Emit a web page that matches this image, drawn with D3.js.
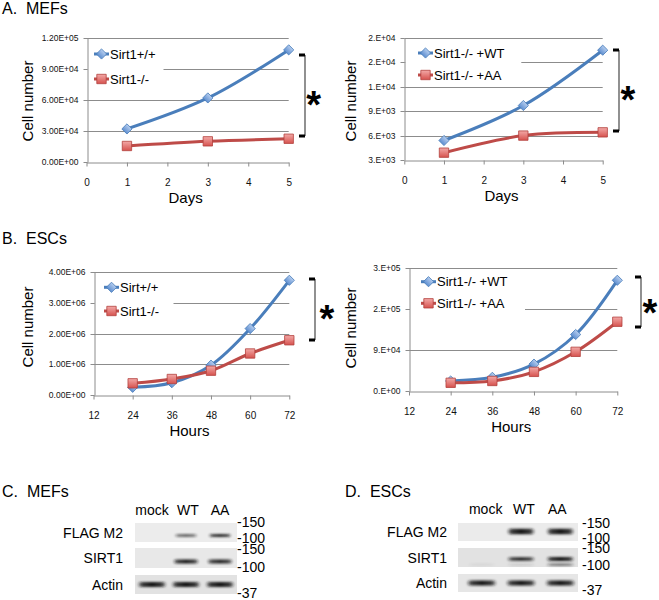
<!DOCTYPE html>
<html><head><meta charset="utf-8">
<script src="https://cdn.jsdelivr.net/npm/d3@7"></script>
<style>body{margin:0;background:#fff} svg{display:block}</style>
</head><body>
<svg id="c" width="659" height="600"></svg>
<script>
// ---------- DATA ----------
const daysMEF = [1, 3, 5];
const mefXTicks = [0, 1, 2, 3, 4, 5];
const mefLegendA = ["Sirt1+/+", "Sirt1-/-"];
const mefSirt1WT = [32000, 62000, 108500];
const mefSirt1KO = [15500, 20000, 22500];
const mefAYTicks = [0, 30000, 60000, 90000, 120000];
const mefAYLabels = ["0.00E+00", "3.00E+04", "6.00E+04", "9.00E+04", "1.20E+05"];
const mefLegendB = ["Sirt1-/- +WT", "Sirt1-/- +AA"];
const mefRescueWT = [5400, 9700, 16500];
const mefRescueAA = [3900, 6000, 6400];
const mefBYTicks = [3000, 6000, 9000, 12000, 15000, 18000];
const mefBYLabels = ["3.E+03", "6.E+03", "9.E+03", "1.E+04", "2.E+04", "2.E+04"];

const hoursESC = [24, 36, 48, 60, 72];
const escXTicks = [12, 24, 36, 48, 60, 72];
const escLegendA = ["Sirt+/+", "Sirt1-/-"];
const escSirt1WT = [250000, 400000, 970000, 2160000, 3730000];
const escSirt1KO = [380000, 520000, 790000, 1350000, 1780000];
const escAYTicks = [0, 1000000, 2000000, 3000000, 4000000];
const escAYLabels = ["0.00E+00", "1.00E+06", "2.00E+06", "3.00E+06", "4.00E+06"];
const escLegendB = ["Sirt1-/- +WT", "Sirt1-/- +AA"];
const escRescueWT = [22000, 30000, 59000, 124000, 243000];
const escRescueAA = [18000, 22000, 42000, 86000, 152000];
const escBYTicks = [0, 90000, 180000, 270000];
const escBYLabels = ["0.E+00", "9.E+04", "2.E+05", "3.E+05"];

const blotLanes = ["mock", "WT", "AA"];
const blotRows = ["FLAG M2", "SIRT1", "Actin"];
const mwLabels = ["-150", "-100", "-150", "-100", "-37"];
const mefBlot = [[0, 0.55, 0.8], [0, 0.9, 0.85], [1, 1, 1]];
const escBlot = [[0, 0.95, 1], [0, 0.8, 1], [1, 1, 1]];
const escSirt1Lower = [0.06, 0.12, 0.6];

// ---------- DRAW ----------
const svg = d3.select("#c");
const FONT = "'Liberation Sans', Arial, sans-serif";
const BLUE = "#4a7ebb", RED = "#be4b48";
const defs = svg.append("defs");
const gb = defs.append("linearGradient").attr("id", "gBlue").attr("x1", 0).attr("y1", 0).attr("x2", 0).attr("y2", 1);
gb.append("stop").attr("offset", 0).attr("stop-color", "#b5cdef");
gb.append("stop").attr("offset", 1).attr("stop-color", "#5f8fd0");
const gr = defs.append("linearGradient").attr("id", "gRed").attr("x1", 0).attr("y1", 0).attr("x2", 0).attr("y2", 1);
gr.append("stop").attr("offset", 0).attr("stop-color", "#f3a9a7");
gr.append("stop").attr("offset", 1).attr("stop-color", "#d6524e");
const gband = defs.append("linearGradient").attr("id", "gBand").attr("x1", 0).attr("y1", 0).attr("x2", 1).attr("y2", 0);
[[0, 0.15], [0.18, 0.85], [0.5, 1], [0.82, 0.85], [1, 0.15]].forEach(([o, a]) =>
  gband.append("stop").attr("offset", o).attr("stop-color", "#151515").attr("stop-opacity", a));
defs.append("filter").attr("id", "blur").attr("x", "-20%").attr("y", "-100%").attr("width", "140%").attr("height", "300%")
  .append("feGaussianBlur").attr("stdDeviation", 0.8);

const diamond = d3.symbol(d3.symbolSquare, 52);
const square = d3.symbol(d3.symbolSquare, 88);

function marker(sel, kind) {
  if (kind === 0) {
    sel.attr("d", diamond()).attr("fill", "url(#gBlue)").attr("stroke", "#4a7ebb").attr("stroke-width", 0.8);
  } else {
    sel.attr("d", square()).attr("fill", "url(#gRed)").attr("stroke", "#b3403c").attr("stroke-width", 0.8);
  }
}

function lineChart(cfg) {
  const g = svg.append("g");
  const x = d3.scaleLinear().domain(cfg.xDomain).range([cfg.x0, cfg.x1]);
  const y = d3.scaleLinear().domain(cfg.yDomain).range([cfg.yBot, cfg.yTop]);
  const ry = v => Math.round(y(v)) + 0.5;
  g.selectAll("line.grid").data(cfg.yTicks.slice(1)).join("line")
    .attr("x1", cfg.x0).attr("x2", cfg.x1).attr("y1", ry).attr("y2", ry)
    .attr("stroke", "#8c8c8c").attr("stroke-width", 1);
  g.append("rect").attr("x", cfg.x0 + 1).attr("y", cfg.leg.y0).attr("width", cfg.leg.w).attr("height", cfg.leg.h).attr("fill", "#fff");
  const ya = d3.axisLeft(y).tickValues(cfg.yTicks).tickFormat((d, i) => cfg.yLabels[i]).tickSize(4).tickSizeOuter(0).tickPadding(5);
  const yg = g.append("g").attr("transform", `translate(${Math.round(cfg.x0) + 0.5},0)`).call(ya);
  const xa = d3.axisBottom(x).tickValues(cfg.xTicks).tickFormat(d3.format("d")).tickSize(4).tickSizeOuter(0).tickPadding(12);
  const xg = g.append("g").attr("transform", `translate(0,${Math.round(cfg.yBot) + 0.5})`).call(xa);
  [yg, xg].forEach(a => {
    a.select(".domain").attr("stroke", "#8c8c8c");
    a.selectAll(".tick line").attr("stroke", "#8c8c8c");
    a.selectAll("text").attr("font-family", FONT).attr("font-size", 8.5).attr("fill", "#111");
  });
  xg.selectAll("text").attr("font-size", 10);
  yg.selectAll(".tick").attr("transform", d => `translate(0,${ry(d)})`);
  g.append("text").attr("transform", `translate(${cfg.yTitleX},${cfg.yTitleY}) rotate(-90)`)
    .attr("text-anchor", "middle").attr("font-family", FONT).attr("font-size", 15).text("Cell number");
  g.append("text").attr("x", (cfg.x0 + cfg.x1) / 2 - 2).attr("y", cfg.yBot + 41)
    .attr("text-anchor", "middle").attr("font-family", FONT).attr("font-size", 15).text(cfg.xTitle);
  const line = d3.line().x(d => x(d[0])).y(d => y(d[1])).curve(d3.curveCatmullRom.alpha(0.5));
  cfg.series.forEach((s, k) => {
    const pts = cfg.xs.map((xv, i) => [xv, s[i]]);
    g.append("path").attr("d", line(pts)).attr("fill", "none")
      .attr("stroke", k === 0 ? BLUE : RED).attr("stroke-width", 3).attr("stroke-linejoin", "round");
  });
  cfg.series.forEach((s, k) => {
    g.selectAll(null).data(cfg.xs.map((xv, i) => [xv, s[i]])).join("path")
      .attr("transform", d => `translate(${x(d[0])},${y(d[1])})` + (k === 0 ? " rotate(45)" : ""))
      .call(marker, k);
  });
  cfg.legend.forEach((name, k) => {
    const ly = cfg.leg.items[k];
    g.append("line").attr("x1", cfg.leg.lx).attr("x2", cfg.leg.lx + 15).attr("y1", ly).attr("y2", ly)
      .attr("stroke", k === 0 ? BLUE : RED).attr("stroke-width", 3);
    g.append("path").attr("transform", `translate(${cfg.leg.lx + 7.5},${ly})` + (k === 0 ? " rotate(45)" : "")).call(marker, k);
    g.append("text").attr("x", cfg.leg.lx + 16).attr("y", ly).attr("dy", "0.36em")
      .attr("font-family", FONT).attr("font-size", 13).text(name);
  });
  const b = cfg.bracket;
  g.append("line").attr("x1", b.x).attr("x2", b.x).attr("y1", b.y1).attr("y2", b.y2).attr("stroke", "#555").attr("stroke-width", 1.3);
  [b.y1, b.y2].forEach(yy => g.append("rect").attr("x", b.x - 6).attr("y", yy - 1.5).attr("width", 6).attr("height", 3).attr("fill", "#000"));
  g.append("text").attr("x", b.ax).attr("y", b.ay + 21).attr("text-anchor", "middle")
    .attr("font-family", FONT).attr("font-weight", "bold").attr("font-size", 38).text("*");
}

function title(txt, x, y) {
  svg.append("text").attr("x", x).attr("y", y).attr("font-family", FONT).attr("font-size", 16).attr("xml:space", "preserve").text(txt);
}

title("A.  MEFs", 2, 14);
title("B.  ESCs", 2, 243.5);
title("C.  MEFs", 2, 497);
title("D.  ESCs", 345, 497);

lineChart({ x0: 86.5, x1: 288.7, yTop: 38, yBot: 162, xDomain: [0, 5], yDomain: [0, 120000],
  xs: daysMEF, series: [mefSirt1WT, mefSirt1KO], xTicks: mefXTicks, yTicks: mefAYTicks, yLabels: mefAYLabels,
  legend: mefLegendA, leg: { y0: 43, w: 76, h: 48, lx: 94, items: [54, 79] },
  yTitleX: 32.5, yTitleY: 101, xTitle: "Days",
  bracket: { x: 305, y1: 55, y2: 136, ax: 313.7, ay: 96.5 } });

lineChart({ x0: 404.3, x1: 602.7, yTop: 38, yBot: 160, xDomain: [0, 5], yDomain: [3000, 18000],
  xs: daysMEF, series: [mefRescueWT, mefRescueAA], xTicks: mefXTicks, yTicks: mefBYTicks, yLabels: mefBYLabels,
  legend: mefLegendB, leg: { y0: 43, w: 116, h: 44, lx: 418, items: [53, 75] },
  yTitleX: 356, yTitleY: 101, xTitle: "Days",
  bracket: { x: 619, y1: 50, y2: 131, ax: 628, ay: 91.7 } });

lineChart({ x0: 93.5, x1: 289.3, yTop: 272, yBot: 395, xDomain: [12, 72], yDomain: [0, 4000000],
  xs: hoursESC, series: [escSirt1WT, escSirt1KO], xTicks: escXTicks, yTicks: escAYTicks, yLabels: escAYLabels,
  legend: escLegendA, leg: { y0: 277, w: 79, h: 44, lx: 104, items: [287.3, 311] },
  yTitleX: 32.5, yTitleY: 327, xTitle: "Hours",
  bracket: { x: 315, y1: 279, y2: 340, ax: 327, ay: 311 } });

lineChart({ x0: 409, x1: 617.3, yTop: 268, yBot: 391, xDomain: [12, 72], yDomain: [0, 270000],
  xs: hoursESC, series: [escRescueWT, escRescueAA], xTicks: escXTicks, yTicks: escBYTicks, yLabels: escBYLabels,
  legend: escLegendB, leg: { y0: 271, w: 115, h: 44, lx: 421, items: [281.7, 303.3] },
  yTitleX: 356, yTitleY: 328, xTitle: "Hours",
  bracket: { x: 641, y1: 277, y2: 327, ax: 650, ay: 305.4 } });

// ---------- BLOTS ----------
function blot(cfg, matrix) {
  const g = svg.append("g");
  const lane = d3.scaleBand().domain(blotLanes).range(cfg.laneRange);
  g.selectAll(null).data(blotLanes).join("text")
    .attr("x", d => lane(d) + lane.bandwidth() / 2 + (cfg.laneShift[blotLanes.indexOf(d)] || 0)).attr("y", cfg.laneY)
    .attr("text-anchor", "middle").attr("font-family", FONT).attr("font-size", 14).text(d => d);
  blotRows.forEach((r, ri) => {
    const [t, b] = cfg.rowsY[ri];
    g.append("rect").attr("x", cfg.box[0]).attr("y", t).attr("width", cfg.box[1] - cfg.box[0]).attr("height", b - t).attr("fill", cfg.rowFill[ri]);
    g.append("text").attr("x", cfg.labelX).attr("y", (t + b) / 2).attr("dy", "0.36em").attr("text-anchor", "end")
      .attr("font-family", FONT).attr("font-size", 14).text(r);
    matrix[ri].forEach((v, li) => {
      if (v <= 0) return;
      const cx = lane(blotLanes[li]) + lane.bandwidth() / 2;
      const w = cfg.bandW[ri], h = cfg.bandH[ri] * (0.6 + 0.4 * v);
      const cy = (t + b) / 2 + cfg.bandOff[ri];
      g.append("rect").attr("x", cx - w / 2).attr("y", cy - h / 2).attr("width", w).attr("height", h).attr("rx", h / 2)
        .attr("fill", "url(#gBand)").attr("opacity", Math.min(1, 0.3 + 0.75 * v)).attr("filter", "url(#blur)");
    });
    if (cfg.lower && ri === 1) {
      cfg.lower.forEach((v, li) => {
        if (v <= 0) return;
        const cx = lane(blotLanes[li]) + lane.bandwidth() / 2;
        g.append("rect").attr("x", cx - cfg.bandW[ri] / 2).attr("y", (t + b) / 2 + cfg.bandOff[ri] + 4.5).attr("width", cfg.bandW[ri]).attr("height", 2.2)
          .attr("rx", 1).attr("fill", "url(#gBand)").attr("opacity", v).attr("filter", "url(#blur)");
      });
    }
  });
  mwLabels.forEach((m, i) => {
    g.append("text").attr("x", cfg.mwX).attr("y", cfg.mwY[i]).attr("font-family", FONT).attr("font-size", 14).text(m);
  });
}

blot({ laneRange: [135, 237], laneShift: [0, 2, 0], laneY: 515, box: [135, 237],
  rowsY: [[523, 542], [548, 568], [575, 594]], rowFill: ["#ececec", "#e8e8e8", "#e2e2e2"],
  labelX: 123, bandW: [23, 26, 29], bandH: [3, 4, 5], bandOff: [3, 3.5, 0],
  mwX: 237, mwY: [527, 543, 554, 572, 598] }, mefBlot);

blot({ laneRange: [462, 580], laneShift: [4, 3, -3], laneY: 514, box: [458, 578],
  rowsY: [[523, 541], [548, 567], [574, 592]], rowFill: ["#ebebeb", "#e2e2e2", "#e6e6e6"],
  labelX: 447, bandW: [28, 28, 30], bandH: [5.5, 4, 5], bandOff: [-0.5, 1.5, 0], lower: escSirt1Lower,
  mwX: 582, mwY: [528, 543, 553, 570, 595] }, escBlot);
</script>
</body></html>
